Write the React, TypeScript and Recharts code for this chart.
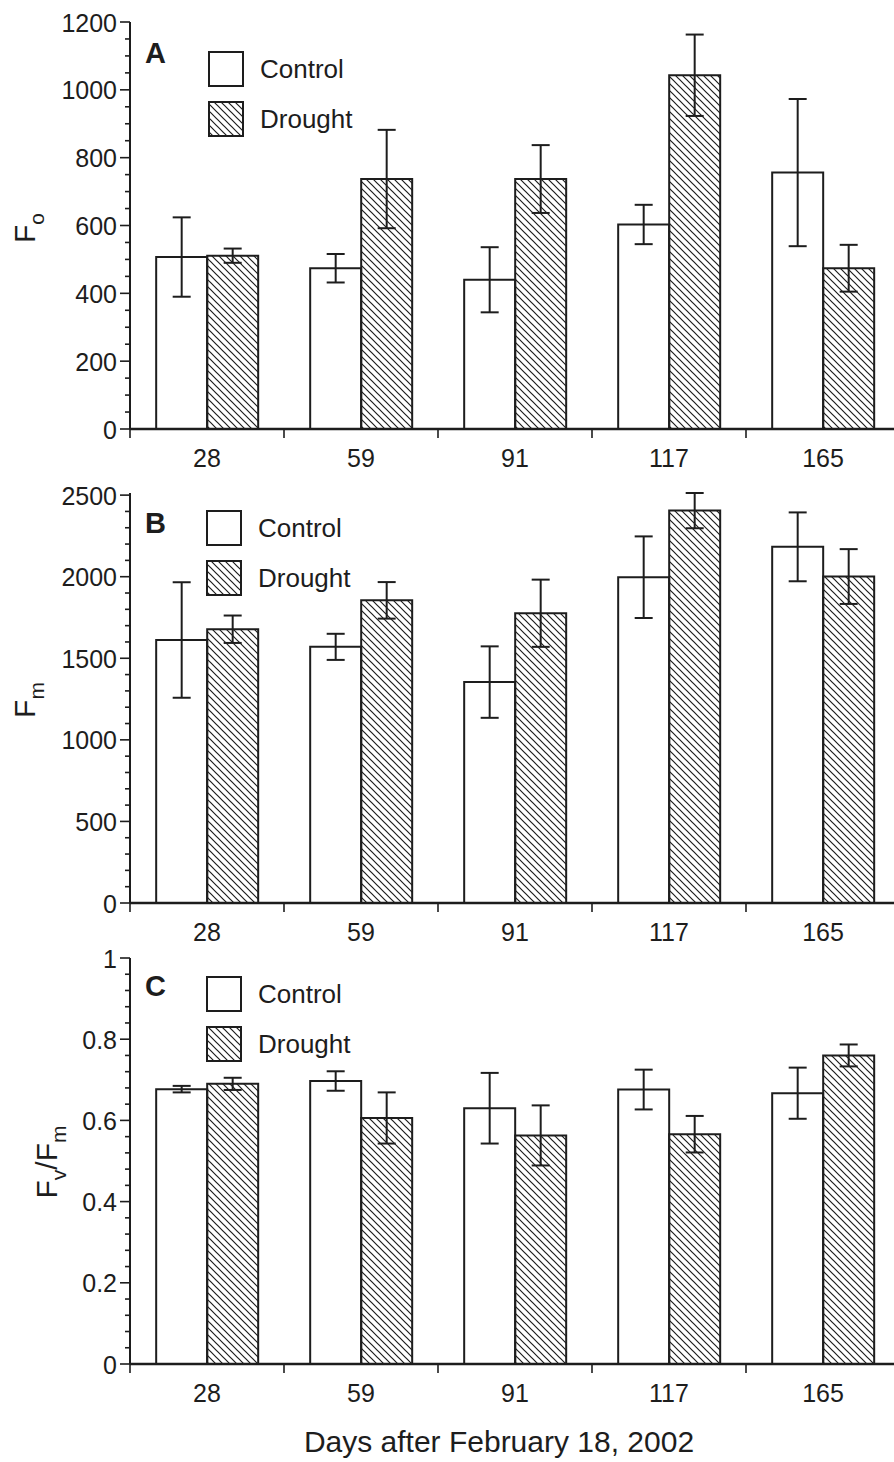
import React from "react";
import { BarChart, Bar, XAxis, YAxis, ErrorBar } from "recharts";

const INK = "#1d1d1d";
const FONT = "'Liberation Sans', Arial, Helvetica, sans-serif";

const DAYS = ["28", "59", "91", "117", "165"];

// Panel A – Fo
const FO_CONTROL = [507, 474, 440, 603, 756];
const FO_CONTROL_ERR = [117, 42, 96, 58, 217];
const FO_DROUGHT = [511, 737, 737, 1043, 474];
const FO_DROUGHT_ERR = [21, 145, 100, 120, 69];
const FO_TICKS = [0, 200, 400, 600, 800, 1000, 1200];

// Panel B – Fm
const FM_CONTROL = [1612, 1570, 1354, 1997, 2183];
const FM_CONTROL_ERR = [354, 80, 219, 250, 211];
const FM_DROUGHT = [1678, 1855, 1776, 2405, 2001];
const FM_DROUGHT_ERR = [84, 112, 206, 108, 168];
const FM_TICKS = [0, 500, 1000, 1500, 2000, 2500];

// Panel C – Fv/Fm
const FVFM_CONTROL = [0.677, 0.697, 0.63, 0.676, 0.667];
const FVFM_CONTROL_ERR = [0.008, 0.024, 0.087, 0.049, 0.063];
const FVFM_DROUGHT = [0.69, 0.606, 0.563, 0.566, 0.76];
const FVFM_DROUGHT_ERR = [0.015, 0.063, 0.074, 0.045, 0.027];
const FVFM_TICKS = [0, 0.2, 0.4, 0.6, 0.8, 1];

const SERIES = [
  { name: "Control", key: "control" },
  { name: "Drought", key: "drought" },
];

const CHART_W = 900;
const AXIS_W = 130;
const X_AXIS_H = 50;
const TOP_PAD = 20;
const BAND = (CHART_W - AXIS_W) / DAYS.length;

function withMinors(majors: number[], perMajor: number): number[] {
  const out: number[] = [];
  for (let i = 0; i < majors.length - 1; i++) {
    const step = (majors[i + 1] - majors[i]) / perMajor;
    for (let k = 0; k < perMajor; k++) out.push(+(majors[i] + k * step).toFixed(6));
  }
  out.push(majors[majors.length - 1]);
  return out;
}

function buildRows(c: number[], ce: number[], d: number[], de: number[]) {
  return DAYS.map((day, i) => ({
    day,
    control: c[i],
    controlErr: ce[i],
    drought: d[i],
    droughtErr: de[i],
  }));
}

function YTick(props: any) {
  const { x, y, payload, majors } = props;
  const v = Number(payload.value);
  const major = majors.some((m: number) => Math.abs(m - v) < 1e-9);
  return (
    <g>
      <line x1={x - (major ? 10 : 5)} x2={x} y1={y} y2={y} stroke={INK} strokeWidth={1.6} />
      {major && (
        <text x={x - 13} y={y} dy={9.5} textAnchor="end" fontSize={25} fill={INK} fontFamily={FONT}>
          {String(v)}
        </text>
      )}
    </g>
  );
}

function XTick(props: any) {
  const { x, y, payload } = props;
  return (
    <g>
      <line x1={x - BAND / 2} x2={x - BAND / 2} y1={y} y2={y + 9} stroke={INK} strokeWidth={1.6} />
      <text x={x} y={y + 38} textAnchor="middle" fontSize={25} fill={INK} fontFamily={FONT}>
        {payload.value}
      </text>
    </g>
  );
}

interface PanelProps {
  id: string;
  rows: Array<Record<string, unknown>>;
  majors: number[];
  perMajor: number;
  plotTop: number;
  plotH: number;
}

function Panel({ id, rows, majors, perMajor, plotTop, plotH }: PanelProps) {
  const ticks = withMinors(majors, perMajor);
  return (
    <div style={{ position: "absolute", left: 0, top: plotTop - TOP_PAD }}>
      <BarChart
        width={CHART_W}
        height={TOP_PAD + plotH + X_AXIS_H}
        data={rows}
        margin={{ top: TOP_PAD, right: 0, bottom: 0, left: 0 }}
        barCategoryGap="17%"
        barGap={0}
      >
        <defs>
          <pattern id={`hatch-${id}`} patternUnits="userSpaceOnUse" width="7" height="7">
            <path d="M-1,-1 L8,8 M-1,6 L1,8 M6,-1 L8,1" stroke={INK} strokeWidth={1.2} />
          </pattern>
        </defs>
        <XAxis
          dataKey="day"
          height={X_AXIS_H}
          interval={0}
          tickSize={0}
          tickMargin={0}
          tickLine={false}
          axisLine={{ stroke: INK, strokeWidth: 2.5 }}
          tick={(p: any) => <XTick {...p} />}
        />
        <YAxis
          width={AXIS_W}
          domain={[majors[0], majors[majors.length - 1]]}
          ticks={ticks}
          interval={0}
          tickSize={0}
          tickMargin={0}
          tickLine={false}
          axisLine={{ stroke: INK, strokeWidth: 2 }}
          tick={(p: any) => <YTick {...p} majors={majors} />}
        />
        <Bar dataKey="control" name="Control" fill="#ffffff" stroke={INK} strokeWidth={2} isAnimationActive={false}>
          <ErrorBar dataKey="controlErr" width={9} stroke={INK} strokeWidth={2} isAnimationActive={false} />
        </Bar>
        <Bar dataKey="drought" name="Drought" fill={`url(#hatch-${id})`} stroke={INK} strokeWidth={2} isAnimationActive={false}>
          <ErrorBar dataKey="droughtErr" width={9} stroke={INK} strokeWidth={2} isAnimationActive={false} />
        </Bar>
      </BarChart>
    </div>
  );
}

type LabelPart = { t: string; sub?: boolean };

function YLabel({ x, cy, parts }: { x: number; cy: number; parts: LabelPart[] }) {
  let shifted = false;
  return (
    <text
      x={x}
      y={cy}
      transform={`rotate(-90 ${x} ${cy})`}
      textAnchor="middle"
      fontSize={30}
      fill={INK}
      fontFamily={FONT}
    >
      {parts.map((p, i) => {
        let dy = 0;
        if (p.sub && !shifted) { dy = 9; shifted = true; }
        else if (!p.sub && shifted) { dy = -9; shifted = false; }
        return (
          <tspan key={i} dy={dy} fontSize={p.sub ? 21 : 30}>{p.t}</tspan>
        );
      })}
    </text>
  );
}

function LegendBlock({ x, top }: { x: number; top: number }) {
  return (
    <g>
      {SERIES.map((s, i) => {
        const y = top + i * 50;
        return (
          <g key={s.key}>
            <rect
              x={x}
              y={y}
              width={34}
              height={34}
              fill={s.key === "drought" ? "url(#hatch-legend)" : "#ffffff"}
              stroke={INK}
              strokeWidth={2}
            />
            <text x={x + 51} y={y + 26} fontSize={26} fill={INK} fontFamily={FONT}>{s.name}</text>
          </g>
        );
      })}
    </g>
  );
}

const PANELS = [
  { id: "A", letterY: 63, legendX: 209, legendTop: 52 },
  { id: "B", letterY: 533, legendX: 207, legendTop: 511 },
  { id: "C", letterY: 996, legendX: 207, legendTop: 977 },
];

export default function App() {
  const foRows = buildRows(FO_CONTROL, FO_CONTROL_ERR, FO_DROUGHT, FO_DROUGHT_ERR);
  const fmRows = buildRows(FM_CONTROL, FM_CONTROL_ERR, FM_DROUGHT, FM_DROUGHT_ERR);
  const fvRows = buildRows(FVFM_CONTROL, FVFM_CONTROL_ERR, FVFM_DROUGHT, FVFM_DROUGHT_ERR);

  return (
    <div
      style={{
        position: "absolute",
        left: 0,
        top: 0,
        width: 894,
        height: 1462,
        overflow: "hidden",
        background: "#ffffff",
        fontFamily: FONT,
      }}
    >
      <Panel id="A" rows={foRows} majors={FO_TICKS} perMajor={4} plotTop={22} plotH={407} />
      <Panel id="B" rows={fmRows} majors={FM_TICKS} perMajor={5} plotTop={493} plotH={410} />
      <Panel id="C" rows={fvRows} majors={FVFM_TICKS} perMajor={5} plotTop={958} plotH={406} />

      <svg
        width={894}
        height={1462}
        style={{ position: "absolute", left: 0, top: 0, pointerEvents: "none" }}
      >
        <defs>
          <pattern id="hatch-legend" patternUnits="userSpaceOnUse" width="7" height="7">
            <path d="M-1,-1 L8,8 M-1,6 L1,8 M6,-1 L8,1" stroke={INK} strokeWidth={1.2} />
          </pattern>
        </defs>

        {PANELS.map((p) => (
          <g key={p.id}>
            <text x={145} y={p.letterY} fontSize={29} fontWeight="bold" fill={INK} fontFamily={FONT}>
              {p.id}
            </text>
            <LegendBlock x={p.legendX} top={p.legendTop} />
          </g>
        ))}

        <YLabel x={35} cy={228} parts={[{ t: "F" }, { t: "o", sub: true }]} />
        <YLabel x={35} cy={700} parts={[{ t: "F" }, { t: "m", sub: true }]} />
        <YLabel
          x={57}
          cy={1162}
          parts={[{ t: "F" }, { t: "v", sub: true }, { t: "/" }, { t: "F" }, { t: "m", sub: true }]}
        />

        <text x={499} y={1452} textAnchor="middle" fontSize={30} fill={INK} fontFamily={FONT}>
          Days after February 18, 2002
        </text>
      </svg>
    </div>
  );
}
